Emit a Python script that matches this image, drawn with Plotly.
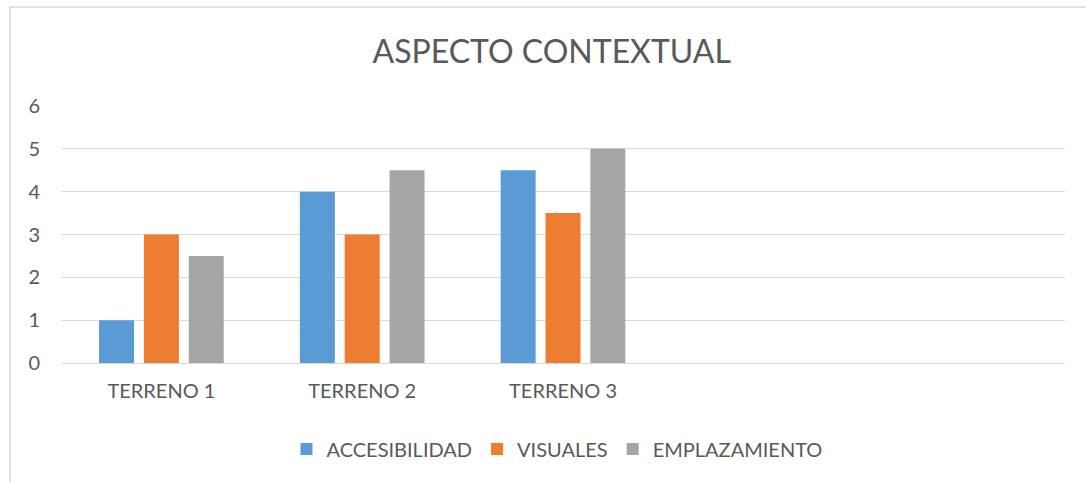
import plotly.graph_objects as go

categories = ["TERRENO 1", "TERRENO 2", "TERRENO 3"]
accesibilidad = [1, 4, 4.5]
visuales = [3, 3, 3.5]
emplazamiento = [2.5, 4.5, 5]

series = [
    ("ACCESIBILIDAD", accesibilidad, "#5B9BD5"),
    ("VISUALES", visuales, "#ED7D31"),
    ("EMPLAZAMIENTO", emplazamiento, "#A5A5A5"),
]

FONT = "Lato"
TEXT = "#595959"
GRID = "#D9D9D9"

fig = go.Figure()
for name, vals, color in series:
    fig.add_trace(go.Bar(x=categories, y=vals, name=name, marker=dict(color=color, line_width=0)))

fig.update_layout(
    width=1086,
    height=482,
    margin=dict(l=61, r=21, t=106, b=119),
    paper_bgcolor="white",
    plot_bgcolor="white",
    barmode="group",
    bargap=0.33,
    bargroupgap=0.22,
    font=dict(family=FONT, color=TEXT, size=20),
    title=dict(
        text="ASPECTO CONTEXTUAL",
        x=0.508, xanchor="center",
        y=1 - 52 / 482, yanchor="middle",
        font=dict(family=FONT, size=32, color=TEXT),
    ),
    xaxis=dict(
        type="category",
        categoryorder="array",
        categoryarray=categories,
        range=[-0.5, 4.5],
        showgrid=False,
        showline=False,
        ticks="",
        ticklabelstandoff=14,
        tickfont=dict(size=20, color=TEXT),
        fixedrange=True,
    ),
    yaxis=dict(
        range=[0, 6],
        dtick=1,
        showgrid=True,
        gridcolor=GRID,
        gridwidth=1.3,
        zeroline=True,
        zerolinecolor=GRID,
        zerolinewidth=1.3,
        showline=False,
        ticks="",
        ticklabelstandoff=20,
        tickfont=dict(size=20, color=TEXT),
        fixedrange=True,
    ),
    legend=dict(
        orientation="h",
        x=0.494, xanchor="center",
        y=-0.335, yanchor="middle",
        font=dict(size=20, color=TEXT),
        itemclick=False,
    ),
    shapes=[
        dict(
            type="rect", xref="paper", yref="paper",
            x0=-0.0508, x1=1.03, y0=-0.5, y1=1.385,
            line=dict(color=GRID, width=1.5),
            fillcolor="rgba(0,0,0,0)",
            layer="below",
        )
    ],
)

fig.write_html("out.html")
